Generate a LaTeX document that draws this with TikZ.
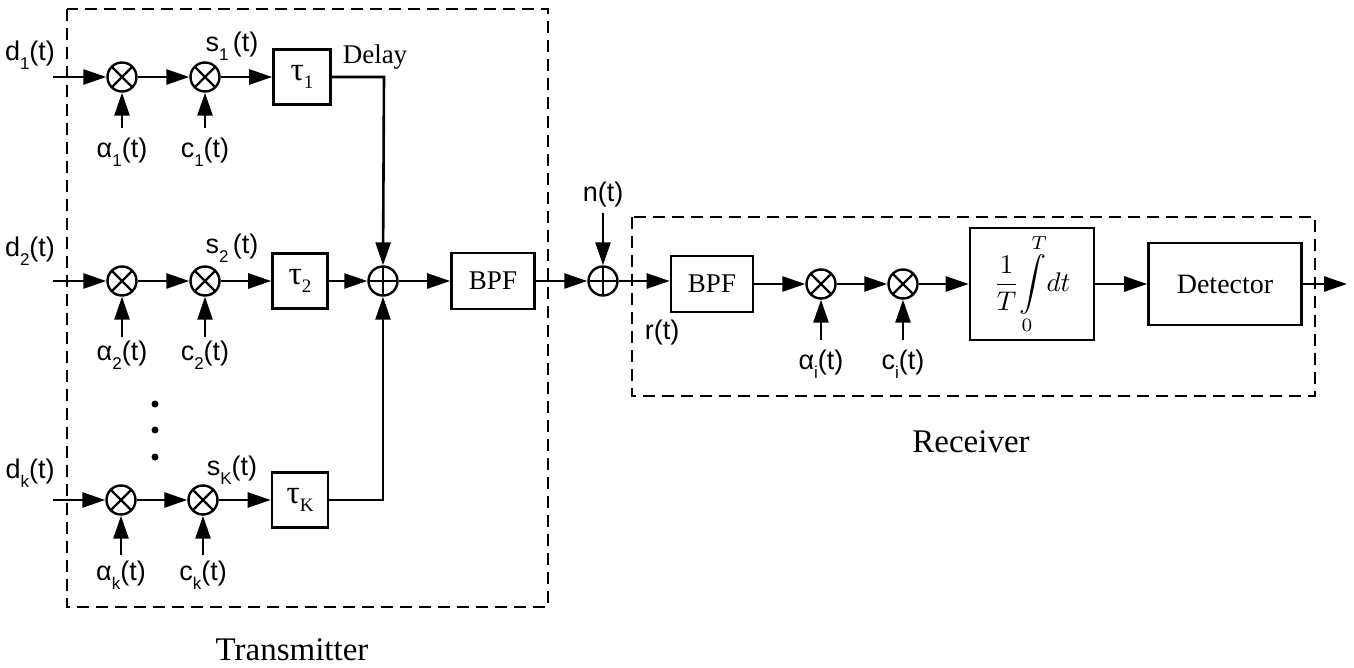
\documentclass[tikz,border=0pt]{standalone}
\usepackage{fontspec}
\setmainfont{Liberation Serif}
\newfontfamily\hv{Liberation Sans}
\usetikzlibrary{arrows.meta}
\newcommand\lsub[1]{\raisebox{-0.32em}{\fontsize{17}{17}\selectfont #1}}
\newcommand\tsub[1]{\raisebox{-0.25em}{\fontsize{19}{19}\selectfont #1}}
\tikzset{
  ln/.style={line width=2.6pt},
  ar/.style={ln,-{Triangle[length=23pt,width=15pt]}},
  blk/.style={draw,line width=2.6pt,inner sep=0pt,font=\fontsize{27}{29}\selectfont},
  taub/.style={blk,font=\fontsize{33}{35}\selectfont},
  mul/.style={draw,circle,line width=2.4pt,minimum size=29pt,inner sep=0pt,
    path picture={\draw[line width=2.4pt] (path picture bounding box.center) ++(45:14.5) -- ++(225:29)
      (path picture bounding box.center) ++(135:14.5) -- ++(315:29);}},
  add/.style={draw,circle,line width=2.4pt,minimum size=29pt,inner sep=0pt,
    path picture={\draw[line width=2.4pt] (path picture bounding box.center) ++(0:14.5) -- ++(180:29)
      (path picture bounding box.center) ++(90:14.5) -- ++(270:29);}},
  lab/.style={font=\hv\fontsize{27}{29}\selectfont,inner sep=0pt},
  ser/.style={font=\fontsize{27}{29}\selectfont,inner sep=0pt},
  big/.style={font=\fontsize{33}{36}\selectfont,inner sep=0pt},
  dbox/.style={dash pattern=on 12pt off 7pt,line width=1.9pt},
  dotc/.style={fill,circle,minimum size=7pt,inner sep=0pt},
}
\begin{document}
\begin{tikzpicture}[x=1pt,y=-1pt]
\useasboundingbox (0,0) rectangle (1354,668);
% dashed boxes
\draw[dbox] (67,9) rectangle (548,607);
\draw[dbox] (632,217) rectangle (1315,396);
\node[big] (txl) at (292,650) {Transmitter};
\node[big] (rxl) at (971,442) {Receiver};

% ---- row 1
\coordinate (in1) at (53,77);
\node[mul] (m11) at (122,77) {};
\node[mul] (m12) at (205,77) {};
\node[taub,minimum width=57pt,minimum height=55pt] (t1) at (302,77) {τ\tsub{1}};
\coordinate (c1) at (384,77);
\node[lab] (d1) at (30,55) {d\lsub{1}(t)};
\node[lab] (s1) at (232,46) {s\lsub{1}\,(t)};
\node[lab] (a1) at (122,152) {α\lsub{1}(t)};
\node[lab] (cc1) at (205,152) {c\lsub{1}(t)};
\coordinate (a1t) at (122,128);
\coordinate (cc1t) at (205,128);
\node[ser] (dl) at (375,57) {Delay};

% ---- row 2
\coordinate (in2) at (53,281);
\node[mul] (m21) at (122,281) {};
\node[mul] (m22) at (205,281) {};
\node[taub,minimum width=55pt,minimum height=55pt] (t2) at (300,281) {τ\tsub{2}};
\node[add] (sum) at (383,281) {};
\node[blk,minimum width=83pt,minimum height=56pt] (bpf1) at (493,281) {BPF};
\node[lab] (d2) at (30,251) {d\lsub{2}(t)};
\node[lab] (s2) at (232,248) {s\lsub{2}\,(t)};
\node[lab] (a2) at (122,355) {α\lsub{2}(t)};
\node[lab] (cc2) at (205,355) {c\lsub{2}(t)};
\coordinate (a2t) at (122,337);
\coordinate (cc2t) at (205,337);

% ---- row K
\coordinate (in3) at (53,500);
\node[mul] (m31) at (121,500) {};
\node[mul] (m32) at (203,500) {};
\node[taub,minimum width=56pt,minimum height=55pt] (t3) at (300,500) {τ\tsub{K}};
\coordinate (c3) at (383,500);
\node[lab] (d3) at (30,473) {d\lsub{k}(t)};
\node[lab] (s3) at (232,470) {s\lsub{K}(t)};
\node[lab] (a3) at (121,575) {α\lsub{k}(t)};
\node[lab] (cc3) at (203,575) {c\lsub{k}(t)};
\coordinate (a3t) at (121,555);
\coordinate (cc3t) at (203,555);

\node[dotc] (p1) at (155,404) {};
\node[dotc] (p2) at (155,430) {};
\node[dotc] (p3) at (155,457) {};

% ---- channel
\node[add] (nadd) at (603,281) {};
\node[lab] (nl) at (603,195) {n(t)};
\coordinate (nt) at (603,213);

% ---- receiver
\node[blk,minimum width=82pt,minimum height=56pt] (bpf2) at (712,284) {BPF};
\node[lab] (rl) at (662,333) {r(t)};
\node[mul] (m41) at (821,284) {};
\node[mul] (m42) at (903,284) {};
\node[lab] (a4) at (821,364) {α\lsub{i}(t)};
\node[lab] (cc4) at (903,364) {c\lsub{i}(t)};
\coordinate (a4t) at (821,340);
\coordinate (cc4t) at (903,340);
\node[blk,minimum width=124pt,minimum height=112pt,font=\normalsize] (intg) at (1032,284)
  {\scalebox{2.7}{$\displaystyle\frac{1}{T}\!\int\limits_0^T\! dt$}};
\node[blk,minimum width=153pt,minimum height=82pt,font=\fontsize{28}{30}\selectfont] (det) at (1225,284) {Detector};
\coordinate (out) at (1347,284);

% ---- connectors
\draw[ar] (in1) -- (m11);
\draw[ar] (m11) -- (m12);
\draw[ar] (m12) -- (t1);
\draw[ar] (a1t) -- (m11);
\draw[ar] (cc1t) -- (m12);
\draw[ar] (t1.east) -- (c1) -- (sum.north);

\draw[ar] (in2) -- (m21);
\draw[ar] (m21) -- (m22);
\draw[ar] (m22) -- (t2);
\draw[ar] (a2t) -- (m21);
\draw[ar] (cc2t) -- (m22);
\draw[ar] (t2) -- (sum);

\draw[ar] (in3) -- (m31);
\draw[ar] (m31) -- (m32);
\draw[ar] (m32) -- (t3);
\draw[ar] (a3t) -- (m31);
\draw[ar] (cc3t) -- (m32);
\draw[ar] (t3.east) -- (c3) -- (sum.south);

\draw[ar] (sum) -- (bpf1);
\draw[ar] (bpf1.east) -- (nadd);
\draw[ar] (nt) -- (nadd.north);
\draw[ar] (nadd.east) -- (bpf2.west |- nadd.east);
\draw[ar] (bpf2) -- (m41);
\draw[ar] (m41) -- (m42);
\draw[ar] (a4t) -- (m41);
\draw[ar] (cc4t) -- (m42);
\draw[ar] (m42) -- (intg);
\draw[ar] (intg) -- (det);
\draw[ar] (det) -- (out);
\end{tikzpicture}
\end{document}
